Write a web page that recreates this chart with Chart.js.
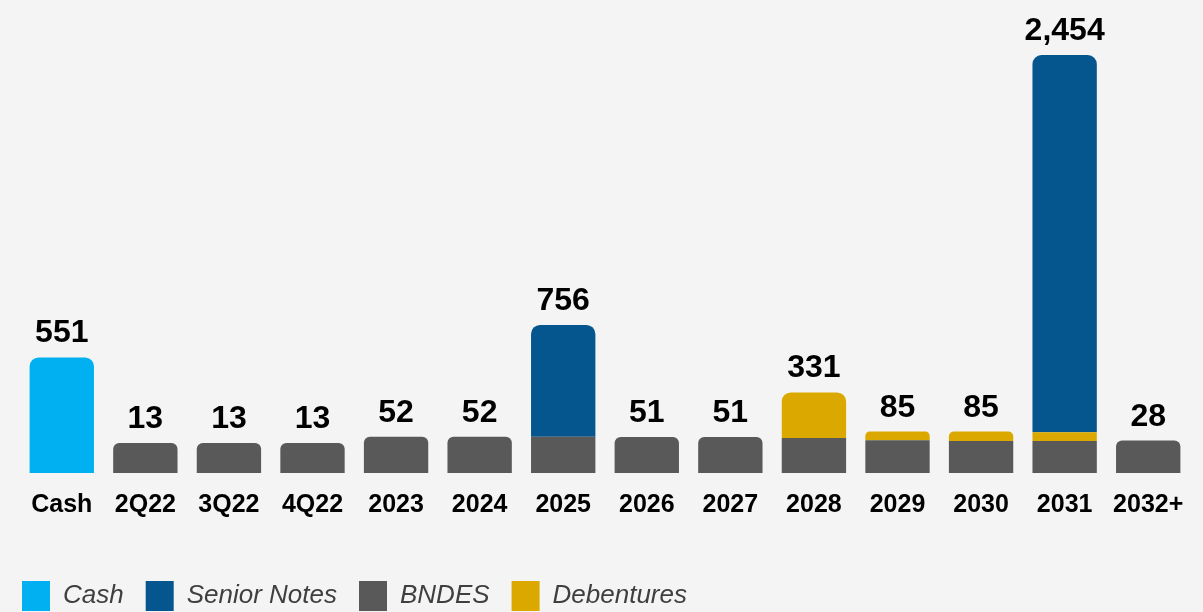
<!DOCTYPE html>
<html>
<head>
<meta charset="utf-8">
<script src="https://cdn.jsdelivr.net/npm/chart.js@4"></script>
<style>
  html, body { margin: 0; padding: 0; background: #f4f4f4; overflow: hidden; }
  #wrap { width: 1203px; height: 621px; position: relative; }
</style>
</head>
<body>
<div id="wrap"><canvas id="myChart"></canvas></div>
<script>
// categories along the x axis
const categories = ['Cash', '2Q22', '3Q22', '4Q22', '2023', '2024', '2025', '2026', '2027', '2028', '2029', '2030', '2031', '2032+'];

// amounts per source (null = nothing in that period)
const cashValues       = [551, null, null, null, null, null, null, null, null, null, null, null, null, null];
const bndesValues      = [null, 13, 13, 13, 52, 52, 52, 51, 51, 45, 30, 25, 25, 28];
const debentureValues  = [null, null, null, null, null, null, null, null, null, 286, 55, 60, 55, null];
const seniorNoteValues = [null, null, null, null, null, null, 704, null, null, null, null, null, 2374, null];

// legend reads in this order, stacking goes bottom-up in dataset order
const legendOrder = ['Cash', 'Senior Notes', 'BNDES', 'Debentures'];

const FONT = '"Liberation Sans", Arial, sans-serif';
const BAR_FLOOR = -176;

// round only the top corners of whatever segment ends up on top of its column
function topRadius(r) {
  return function (c) {
    const i = c.dataIndex;
    const above = c.chart.data.datasets.slice(c.datasetIndex + 1).some(ds => ds.data[i] != null);
    return above ? 0 : { topLeft: r, topRight: r, bottomLeft: 0, bottomRight: 0 };
  };
}

// totals written over each column
const totalsLabels = {
  id: 'totalsLabels',
  afterDatasetsDraw(chart) {
    const ctx = chart.ctx;
    ctx.save();
    ctx.font = 'bold 32px ' + FONT;
    ctx.fillStyle = '#000000';
    ctx.textAlign = 'center';
    ctx.textBaseline = 'alphabetic';
    for (let i = 0; i < categories.length; i++) {
      let total = 0;
      let top = null;
      chart.data.datasets.forEach((ds, d) => {
        const v = ds.data[i];
        if (v == null) return;
        total += v;
        const bar = chart.getDatasetMeta(d).data[i];
        if (top === null || bar.y < top.y) top = bar;
      });
      if (top) ctx.fillText(total.toLocaleString('en-US'), top.x, top.y - 15);
    }
    ctx.restore();
  }
};

const ctx = document.getElementById('myChart').getContext('2d');
const mychart = new Chart(ctx, {
  type: 'bar',
  data: {
    labels: categories,
    datasets: [
      { label: 'Cash', data: cashValues, backgroundColor: '#00b0f0', base: BAR_FLOOR, borderRadius: topRadius(9) },
      { label: 'BNDES', data: bndesValues, backgroundColor: '#595959', base: BAR_FLOOR, borderRadius: topRadius(6) },
      { label: 'Debentures', data: debentureValues, backgroundColor: '#dba800', borderRadius: topRadius(9) },
      { label: 'Senior Notes', data: seniorNoteValues, backgroundColor: '#05558f', borderRadius: topRadius(9) }
    ]
  },
  options: {
    responsive: true,
    maintainAspectRatio: false,
    animation: false,
    layout: { padding: { top: 16, right: 13, left: 0, bottom: 0 } },
    datasets: {
      bar: { barPercentage: 0.77, categoryPercentage: 1, borderWidth: 0 }
    },
    scales: {
      x: {
        stacked: true,
        grid: { display: false, drawTicks: false },
        border: { display: false },
        ticks: { color: '#000000', font: { family: FONT, size: 25, weight: 'bold' }, padding: 17, maxRotation: 0, autoSkip: false },
        afterFit: s => { s.height = 86; }
      },
      y: {
        stacked: true,
        min: BAR_FLOOR,
        max: 2700,
        grid: { display: false },
        border: { display: false },
        ticks: { display: false },
        afterFit: s => { s.width = 20; }
      }
    },
    plugins: {
      tooltip: { enabled: false },
      legend: {
        position: 'bottom',
        align: 'start',
        labels: {
          boxWidth: 28,
          boxHeight: 30,
          padding: 22,
          color: '#3f3f3f',
          font: { family: FONT, size: 26, style: 'italic' },
          sort: (a, b) => legendOrder.indexOf(a.text) - legendOrder.indexOf(b.text)
        }
      }
    }
  },
  plugins: [totalsLabels]
});
</script>
</body>
</html>
